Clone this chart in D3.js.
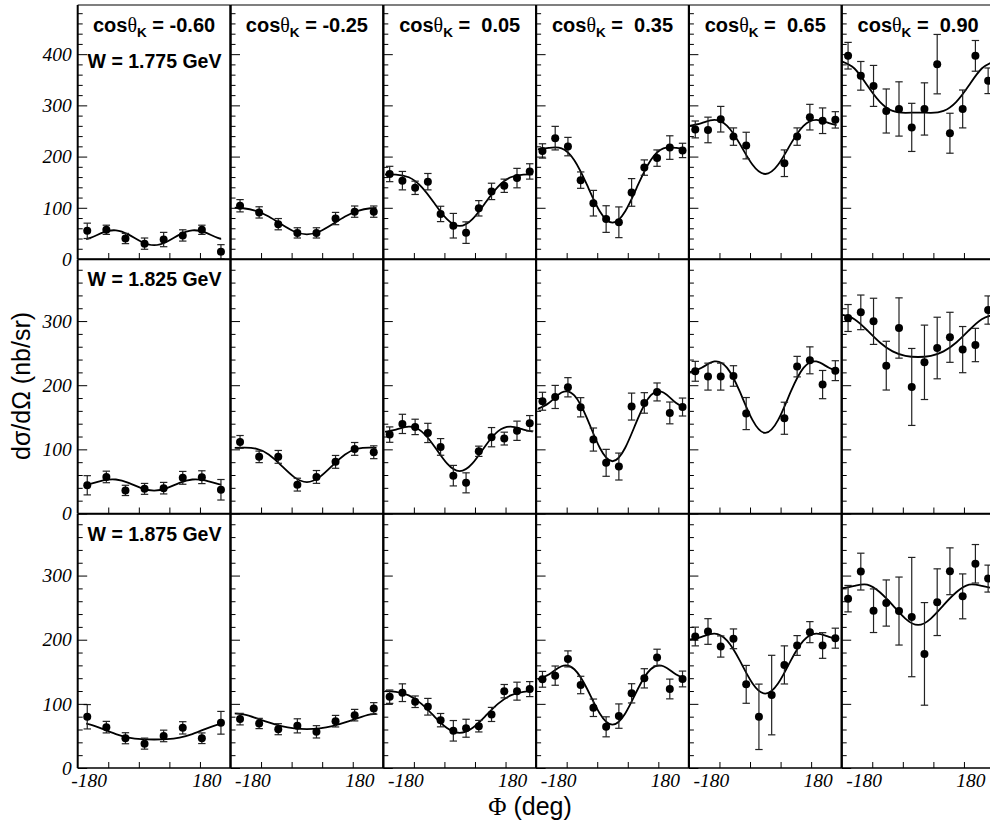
<!DOCTYPE html>
<html>
<head>
<meta charset="utf-8">
<script src="https://cdn.jsdelivr.net/npm/d3@7"></script>
<style>
  html, body { margin: 0; padding: 0; background: #fff; overflow: hidden; }
  text { white-space: pre; }
</style>
</head>
<body>
<svg id="chart" width="990" height="829"></svg>
<script>
// Kaon angle bins (columns) and W bins (rows)
const cosThetaK = ["-0.60", "-0.25", " 0.05", " 0.35", " 0.65", " 0.90"];
const energyW = ["1.775", "1.825", "1.875"];

// Phi bin centres (deg): 8 bins for the two backward columns, 12 otherwise
const phiBins8 = [-157.5, -112.5, -67.5, -22.5, 22.5, 67.5, 112.5, 157.5];
const phiBins12 = [-165, -135, -105, -75, -45, -15, 15, 45, 75, 105, 135, 165];

// Phi grid on which the fitted curves are tabulated
const fitPhi = [-180, -150, -120, -90, -60, -30, 0, 30, 60, 90, 120, 150, 180];
// Phi span covered by the fitted curve in each column
const fitRange = [[-160, 158], [-170, 164], [-176, 172], [-176, 171], [-178, 168], [-180, 180]];

// Axis settings
const yMaxRow = [496, 396, 396];
const yMajorTicks = [[0, 100, 200, 300, 400], [0, 100, 200, 300], [0, 100, 200, 300]];
const xMajorTicks = [-108, -36, 36, 108];
const xTickLabels = ["-180", "180"];

// dsigma/dOmega (nb/sr), W = 1.775 GeV
const sigmaW1775 = [
  [55, 57, 40, 30, 38, 46, 57, 14],
  [104, 91, 68, 51, 51, 79, 92.5, 92.5],
  [166, 153, 139, 151, 88, 65, 51.5, 99, 132, 143, 158, 171],
  [211, 236, 219.5, 154, 109, 78, 71.7, 130, 178.5, 197, 217.6, 212],
  [253, 252, 273, 239, 221.5, null, null, 187, 239, 277, 270, 271.7],
  [397, 357.7, 338, 289, 293, 257, 293, 380.5, 245.6, 293, 396.7, 348]
];
const errW1775 = [
  [15, 9, 10, 11, 14, 11, 9, 14],
  [12, 11, 11, 10, 10, 12, 11, 11],
  [15, 18, 13, 16, 15, 24, 21, 15, 16, 13, 19, 15],
  [14, 23, 18, 16, 25, 26, 30, 27, 15, 16, 23, 14],
  [16.5, 25, 25, 17, 26, null, null, 26, 17, 25, 25, 16],
  [26, 28, 40, 43, 53, 47, 51, 58, 39, 37, 30, 25]
];
const fitW1775 = [
  [35.8, 41.4, 52.0, 56.0, 47.6, 33.7, 27.0, 33.7, 47.6, 56.0, 52.0, 41.4, 35.8],
  [100.4, 99.1, 93.9, 83, 67.7, 53.7, 48, 53.7, 67.7, 83, 93.9, 99.1, 100.4],
  [165, 164.9, 159.6, 141, 109.3, 77.8, 64.5, 77.8, 109.3, 141, 159.6, 164.9, 165],
  [214, 217, 216.1, 193, 144.6, 93.2, 71, 93.2, 144.6, 193, 216.1, 217, 214],
  [260, 265.5, 271.8, 260, 224.8, 184, 166, 184, 224.8, 260, 271.8, 265.5, 260],
  [386, 372, 339.3, 307, 289.3, 285.5, 286, 285.5, 289.3, 307, 339.3, 372, 386]
];

// W = 1.825 GeV
const sigmaW1825 = [
  [44, 57, 36, 38.4, 39.5, 55.6, 56.6, 37],
  [111.6, 88.3, 88.3, 45, 57, 80.5, 100.7, 95.5],
  [123, 139.7, 135, 125.6, 103.8, 59, 47.8, 97, 119, 116.8, 129, 140.7],
  [175, 181.7, 196.8, 165.6, 115.3, 79, 73.2, 166.7, 172.4, 189.5, 156.8, 166],
  [221.7, 213.4, 213.4, 214.4, 155.8, null, null, 148.5, 229, 238.8, 201, 222.7],
  [304.8, 313.6, 299.6, 230.5, 289.2, 197.3, 235.7, 258, 274.7, 255.5, 262.7, 317.2]
];
const errW1825 = [
  [15, 9, 8, 8.5, 9, 10, 10, 16],
  [10, 9, 10, 10, 10, 10, 10, 10],
  [12, 15, 12, 15, 13, 16, 15.6, 8, 15, 10, 15, 12],
  [14, 18, 15, 15, 18, 21, 21, 21, 16, 14, 17, 14],
  [15.5, 21, 21, 16, 25, null, null, 25, 16, 21, 22, 15.5],
  [21, 27, 36, 38, 47, 60, 58, 48, 39, 36, 26, 22]
];
const fitW1825 = [
  [43.3, 46.2, 51.5, 53, 47.8, 39.7, 35.8, 39.7, 47.8, 53, 51.5, 46.2, 43.3],
  [102, 102.6, 101.1, 92, 74.6, 56.7, 49, 56.7, 74.6, 92, 101.1, 102.6, 102],
  [127, 130.8, 135.4, 128, 104.9, 78, 66, 78, 104.9, 128, 135.4, 130.8, 127],
  [162, 172.2, 188.6, 184, 148.3, 102.5, 81.5, 102.5, 148.3, 184, 188.6, 172.2, 162],
  [220, 227.2, 237, 227, 189.9, 145.5, 125.6, 145.5, 189.9, 227, 237, 227.2, 220],
  [310, 303, 285.7, 266.6, 252.7, 245.8, 244, 245.8, 252.7, 266.6, 285.7, 303, 310]
];

// W = 1.875 GeV
const sigmaW1875 = [
  [79.9, 63.7, 46.4, 38, 50, 62.6, 46.4, 70.5],
  [76.2, 69.4, 60.5, 65.7, 56.4, 73, 82.4, 92.9],
  [111.2, 117.4, 103.3, 95.5, 74.6, 58, 62, 65.2, 83.5, 119.8, 119.8, 123],
  [138.3, 144, 170.1, 129.4, 93.9, 64.2, 80.9, 116.4, 139.8, 172.2, 123.2, 138.8],
  [205, 212.8, 189.4, 201.4, 130.4, 79.8, 113.7, 160.7, 191, 211.8, 191, 202.4],
  [264, 306.2, 245.2, 257.2, 244.7, 235.3, 177.9, 258.5, 306.7, 267.6, 318.4, 295.3]
];
const errW1875 = [
  [19, 9, 8.6, 8.6, 9, 9.6, 8.3, 17.7],
  [9, 8, 8.6, 11, 9.6, 9, 9, 9],
  [10.4, 13.8, 9, 13, 10.4, 16, 14, 9, 11, 10.4, 14, 11.7],
  [12.3, 15, 12.5, 13.6, 13.6, 15.6, 19, 15, 15, 13, 15.4, 12.3],
  [14.6, 20, 16.5, 15.4, 29.5, 51, 62, 29.7, 15.4, 16.4, 20, 15.6],
  [20.6, 28.7, 34, 36, 53, 93, 80, 52, 36.5, 35, 30, 21]
];
const fitW1875 = [
  [70.7, 67.7, 60.6, 52.9, 47.5, 45, 44.4, 45, 47.5, 52.9, 60.6, 67.7, 70.7],
  [85.7, 83.5, 77.8, 71, 65.2, 61.7, 60.5, 61.7, 65.2, 71, 77.8, 83.5, 85.7],
  [120, 118.8, 113.2, 100, 80.6, 62.3, 54.8, 62.3, 80.6, 100, 113.2, 118.8, 120],
  [137.5, 145.7, 158.6, 154, 123.6, 85, 67.5, 85, 123.6, 154, 158.6, 145.7, 137.5],
  [200, 204.5, 209.4, 198.5, 167.4, 131.7, 116, 131.7, 167.4, 198.5, 209.4, 204.5, 200],
  [280, 284, 286, 274, 254, 233, 223, 233, 254, 274, 286, 284, 280]
];

const rows = [
  { vals: sigmaW1775, errs: errW1775, fit: fitW1775 },
  { vals: sigmaW1825, errs: errW1825, fit: fitW1825 },
  { vals: sigmaW1875, errs: errW1875, fit: fitW1875 }
];

// ---- layout ----
const SANS = "'Liberation Sans', Arial, Helvetica, sans-serif";
const SERIF = "'Liberation Serif', 'Times New Roman', serif";
const plotLeft = 77.7, colW = 152.8;
const rowTop = [5, 259.5, 514], rowH = 254;

const svg = d3.select("#chart");
const defs = svg.append("defs");

rows.forEach((row, r) => {
  const top = rowTop[r], bottom = top + rowH;
  const y = d3.scaleLinear().domain([0, yMaxRow[r]]).range([bottom, top]);
  const minor = d3.range(0, yMaxRow[r], 20).filter(v => v % 100 !== 0);

  for (let c = 0; c < 6; c++) {
    const x0 = plotLeft + c * colW;
    const x = d3.scaleLinear().domain([-180, 180]).range([x0, x0 + colW]);
    const phis = row.vals[c].length === 8 ? phiBins8 : phiBins12;
    const g = svg.append("g");

    // fitted curve, clipped to its phi span
    const clipId = `fit-clip-${r}-${c}`;
    defs.append("clipPath").attr("id", clipId)
      .append("rect")
      .attr("x", x(fitRange[c][0])).attr("y", top)
      .attr("width", x(fitRange[c][1]) - x(fitRange[c][0])).attr("height", rowH);
    const line = d3.line().x(d => x(d[0])).y(d => y(d[1])).curve(d3.curveNatural);
    g.append("path")
      .datum(fitPhi.map((p, i) => [p, row.fit[c][i]]))
      .attr("d", line)
      .attr("clip-path", `url(#${clipId})`)
      .attr("fill", "none").attr("stroke", "#000").attr("stroke-width", 1.8);

    // data points with error bars
    const pts = phis.map((p, i) => ({ phi: p, v: row.vals[c][i], e: row.errs[c][i] }))
      .filter(d => d.v !== null);
    const eb = g.append("g").attr("stroke", "#222").attr("stroke-width", 1.2);
    pts.forEach(d => {
      const px = x(d.phi);
      eb.append("line").attr("x1", px).attr("x2", px)
        .attr("y1", y(d.v - d.e)).attr("y2", y(d.v + d.e));
      [d.v - d.e, d.v + d.e].forEach(v => {
        eb.append("line").attr("x1", px - 3.7).attr("x2", px + 3.7)
          .attr("y1", y(v)).attr("y2", y(v));
      });
    });
    g.append("g").selectAll("circle").data(pts).join("circle")
      .attr("cx", d => x(d.phi)).attr("cy", d => y(d.v)).attr("r", 4)
      .attr("fill", "#000");

    // inward ticks on the left (y) and bottom (x) edges
    const tickAxis = (axis) => g.append("g").call(axis).call(s => s.select(".domain").remove())
      .call(s => s.selectAll("line").attr("stroke", "#000").attr("stroke-width", 1));
    tickAxis(d3.axisRight(y).tickValues(yMajorTicks[r]).tickSize(9.5).tickFormat(""))
      .attr("transform", `translate(${x0},0)`);
    tickAxis(d3.axisRight(y).tickValues(minor).tickSize(5).tickFormat(""))
      .attr("transform", `translate(${x0},0)`);
    tickAxis(d3.axisTop(x).tickValues(xMajorTicks).tickSize(6).tickFormat(""))
      .attr("transform", `translate(0,${bottom})`);

    // frame
    g.append("line").attr("x1", x0).attr("x2", x0 + colW).attr("y1", top).attr("y2", top)
      .attr("stroke", "#000").attr("stroke-width", r === 0 ? 1.1 : 1.6);
    g.append("line").attr("x1", x0 + colW).attr("x2", x0 + colW).attr("y1", top).attr("y2", bottom)
      .attr("stroke", "#000").attr("stroke-width", 2);
    g.append("line").attr("x1", x0).attr("x2", x0).attr("y1", top).attr("y2", bottom)
      .attr("stroke", "#000").attr("stroke-width", 2);
    g.append("line").attr("x1", x0).attr("x2", x0 + colW).attr("y1", bottom).attr("y2", bottom)
      .attr("stroke", "#000").attr("stroke-width", 1.6);

    // y tick labels on the first column
    if (c === 0) {
      g.append("g").attr("transform", `translate(${x0},0)`)
        .call(d3.axisLeft(y).tickValues(yMajorTicks[r]).tickSize(0).tickPadding(6))
        .call(s => s.select(".domain").remove())
        .call(s => s.selectAll("text")
          .attr("font-family", SERIF).attr("font-style", "italic")
          .attr("font-size", 19.5).attr("fill", "#000"));
    }

    // phi tick labels under the bottom row
    if (r === 2) {
      const labelPhi = [c === 0 ? -153 : -127, 124.6];
      xTickLabels.forEach((t, i) => {
        g.append("text").attr("x", x(labelPhi[i])).attr("y", bottom + 18.5)
          .attr("text-anchor", "middle")
          .attr("font-family", SERIF).attr("font-style", "italic").attr("font-size", 19.5)
          .text(t);
      });
    }

    // column header: cos(theta_K)
    if (r === 0) {
      const t = g.append("text").attr("x", x0 + colW / 2).attr("y", top + 26.7)
        .attr("text-anchor", "middle").attr("font-family", SANS)
        .attr("font-weight", "bold").attr("font-size", 20);
      t.append("tspan").text("cos");
      t.append("tspan").attr("font-family", SERIF).attr("font-weight", "normal").text("θ");
      t.append("tspan").attr("font-size", 13.5).attr("dy", 5.5).text("K");
      t.append("tspan").attr("dy", -5.5).text(" = " + cosThetaK[c]);
    }

    // row header: W
    if (c === 0) {
      g.append("text").attr("x", x0 + colW / 2 + 0.4)
        .attr("y", r === 0 ? top + 63.3 : top + 26.5)
        .attr("text-anchor", "middle").attr("font-family", SANS)
        .attr("font-weight", "bold").attr("font-size", 19.5)
        .text(`W = ${energyW[r]} GeV`);
    }
  }
});

// axis titles
svg.append("text")
  .attr("transform", "translate(30,386) rotate(-90)")
  .attr("text-anchor", "middle").attr("font-family", SANS).attr("font-size", 25)
  .text("dσ/dΩ (nb/sr)");
const xt = svg.append("text").attr("x", 530).attr("y", 815)
  .attr("text-anchor", "middle").attr("font-family", SANS).attr("font-size", 25);
xt.append("tspan").attr("font-family", SERIF).text("Φ");
xt.append("tspan").text(" (deg)");
</script>
</body>
</html>
